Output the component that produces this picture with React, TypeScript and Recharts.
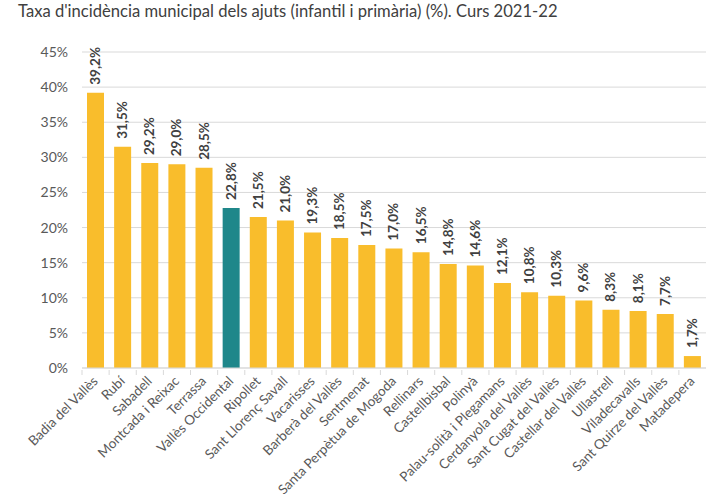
import React from "react";
import { BarChart, Bar, XAxis, YAxis, CartesianGrid, Cell, LabelList } from "recharts";

const municipalities = [
  "Badia del Vallès", "Rubí", "Sabadell", "Montcada i Reixac", "Terrassa", "Vallès Occidental",
  "Ripollet", "Sant Llorenç Savall", "Vacarisses", "Barberà del Vallès", "Sentmenat",
  "Santa Perpètua de Mogoda", "Rellinars", "Castellbisbal", "Polinyà", "Palau-solità i Plegamans",
  "Cerdanyola del Vallès", "Sant Cugat del Vallès", "Castellar del Vallès", "Ullastrell",
  "Viladecavalls", "Sant Quirze del Vallès", "Matadepera",
];
const rates = [39.2, 31.5, 29.2, 29.0, 28.5, 22.8, 21.5, 21.0, 19.3, 18.5, 17.5, 17.0, 16.5, 14.8, 14.6, 12.1, 10.8, 10.3, 9.6, 8.3, 8.1, 7.7, 1.7];
const highlighted = ["Vallès Occidental"];
const yTicks = [0, 5, 10, 15, 20, 25, 30, 35, 40, 45];

const data = municipalities.map((name, i) => ({ name, value: rates[i] }));

const FONT = "Lato, 'Open Sans', sans-serif";
const YELLOW = "#F9BD2C";
const TEAL = "#1F878A";

const fmt = (v: number) => v.toFixed(1).replace(".", ",") + "%";

const XTick = (props: any) => {
  const { x, y, payload } = props;
  const half = payload && payload.offset ? payload.offset : 13.5;
  return (
    <g>
      <line x1={x - half} x2={x - half} y1={y - 6} y2={y - 1} stroke="#d9d9d9" />
      <text
        x={x + 3}
        y={y + 6}
        transform={`rotate(-45, ${x + 3}, ${y + 6})`}
        textAnchor="end"
        fontSize={13.5}
        fontFamily={FONT}
        fill="#595959"
      >
        {payload.value}
      </text>
    </g>
  );
};

const BarLabel = (props: any) => {
  const { x, y, width, value } = props;
  const cx = x + width / 2 + 4.5;
  const cy = y - 8;
  return (
    <text
      x={cx}
      y={cy}
      transform={`rotate(-90, ${cx}, ${cy})`}
      textAnchor="start"
      fontSize={13.5}
      fontWeight="bold"
      fontFamily={FONT}
      fill="#404040"
    >
      {fmt(value)}
    </text>
  );
};

export default function App() {
  return (
    <div style={{ position: "absolute", left: 0, top: 0, width: 725, height: 500, background: "#fff" }}>
      <div
        style={{
          position: "absolute",
          left: 18,
          top: 1,
          fontFamily: FONT,
          fontSize: 16.6,
          color: "#404040",
          whiteSpace: "nowrap",
        }}
      >
        Taxa d'incidència municipal dels ajuts (infantil i primària) (%). Curs 2021-22
      </div>
      <BarChart
        width={725}
        height={500}
        data={data}
        margin={{ top: 52, right: 19, left: 0, bottom: 0 }}
        barSize={17}
      >
        <CartesianGrid vertical={false} stroke="#d9d9d9" />
        <XAxis
          dataKey="name"
          interval={0}
          height={132}
          tick={<XTick />}
          tickLine={false}
          axisLine={{ stroke: "#d9d9d9" }}
        />
        <YAxis
          width={82}
          domain={[0, 45]}
          ticks={yTicks}
          tickFormatter={(v: number) => `${v}%`}
          axisLine={false}
          tickLine={false}
          tickMargin={8}
          tick={{ fontSize: 14, fontFamily: FONT, fill: "#595959" }}
        />
        <Bar dataKey="value" isAnimationActive={false}>
          {data.map((d) => (
            <Cell key={d.name} fill={highlighted.includes(d.name) ? TEAL : YELLOW} />
          ))}
          <LabelList dataKey="value" content={<BarLabel />} />
        </Bar>
      </BarChart>
    </div>
  );
}
